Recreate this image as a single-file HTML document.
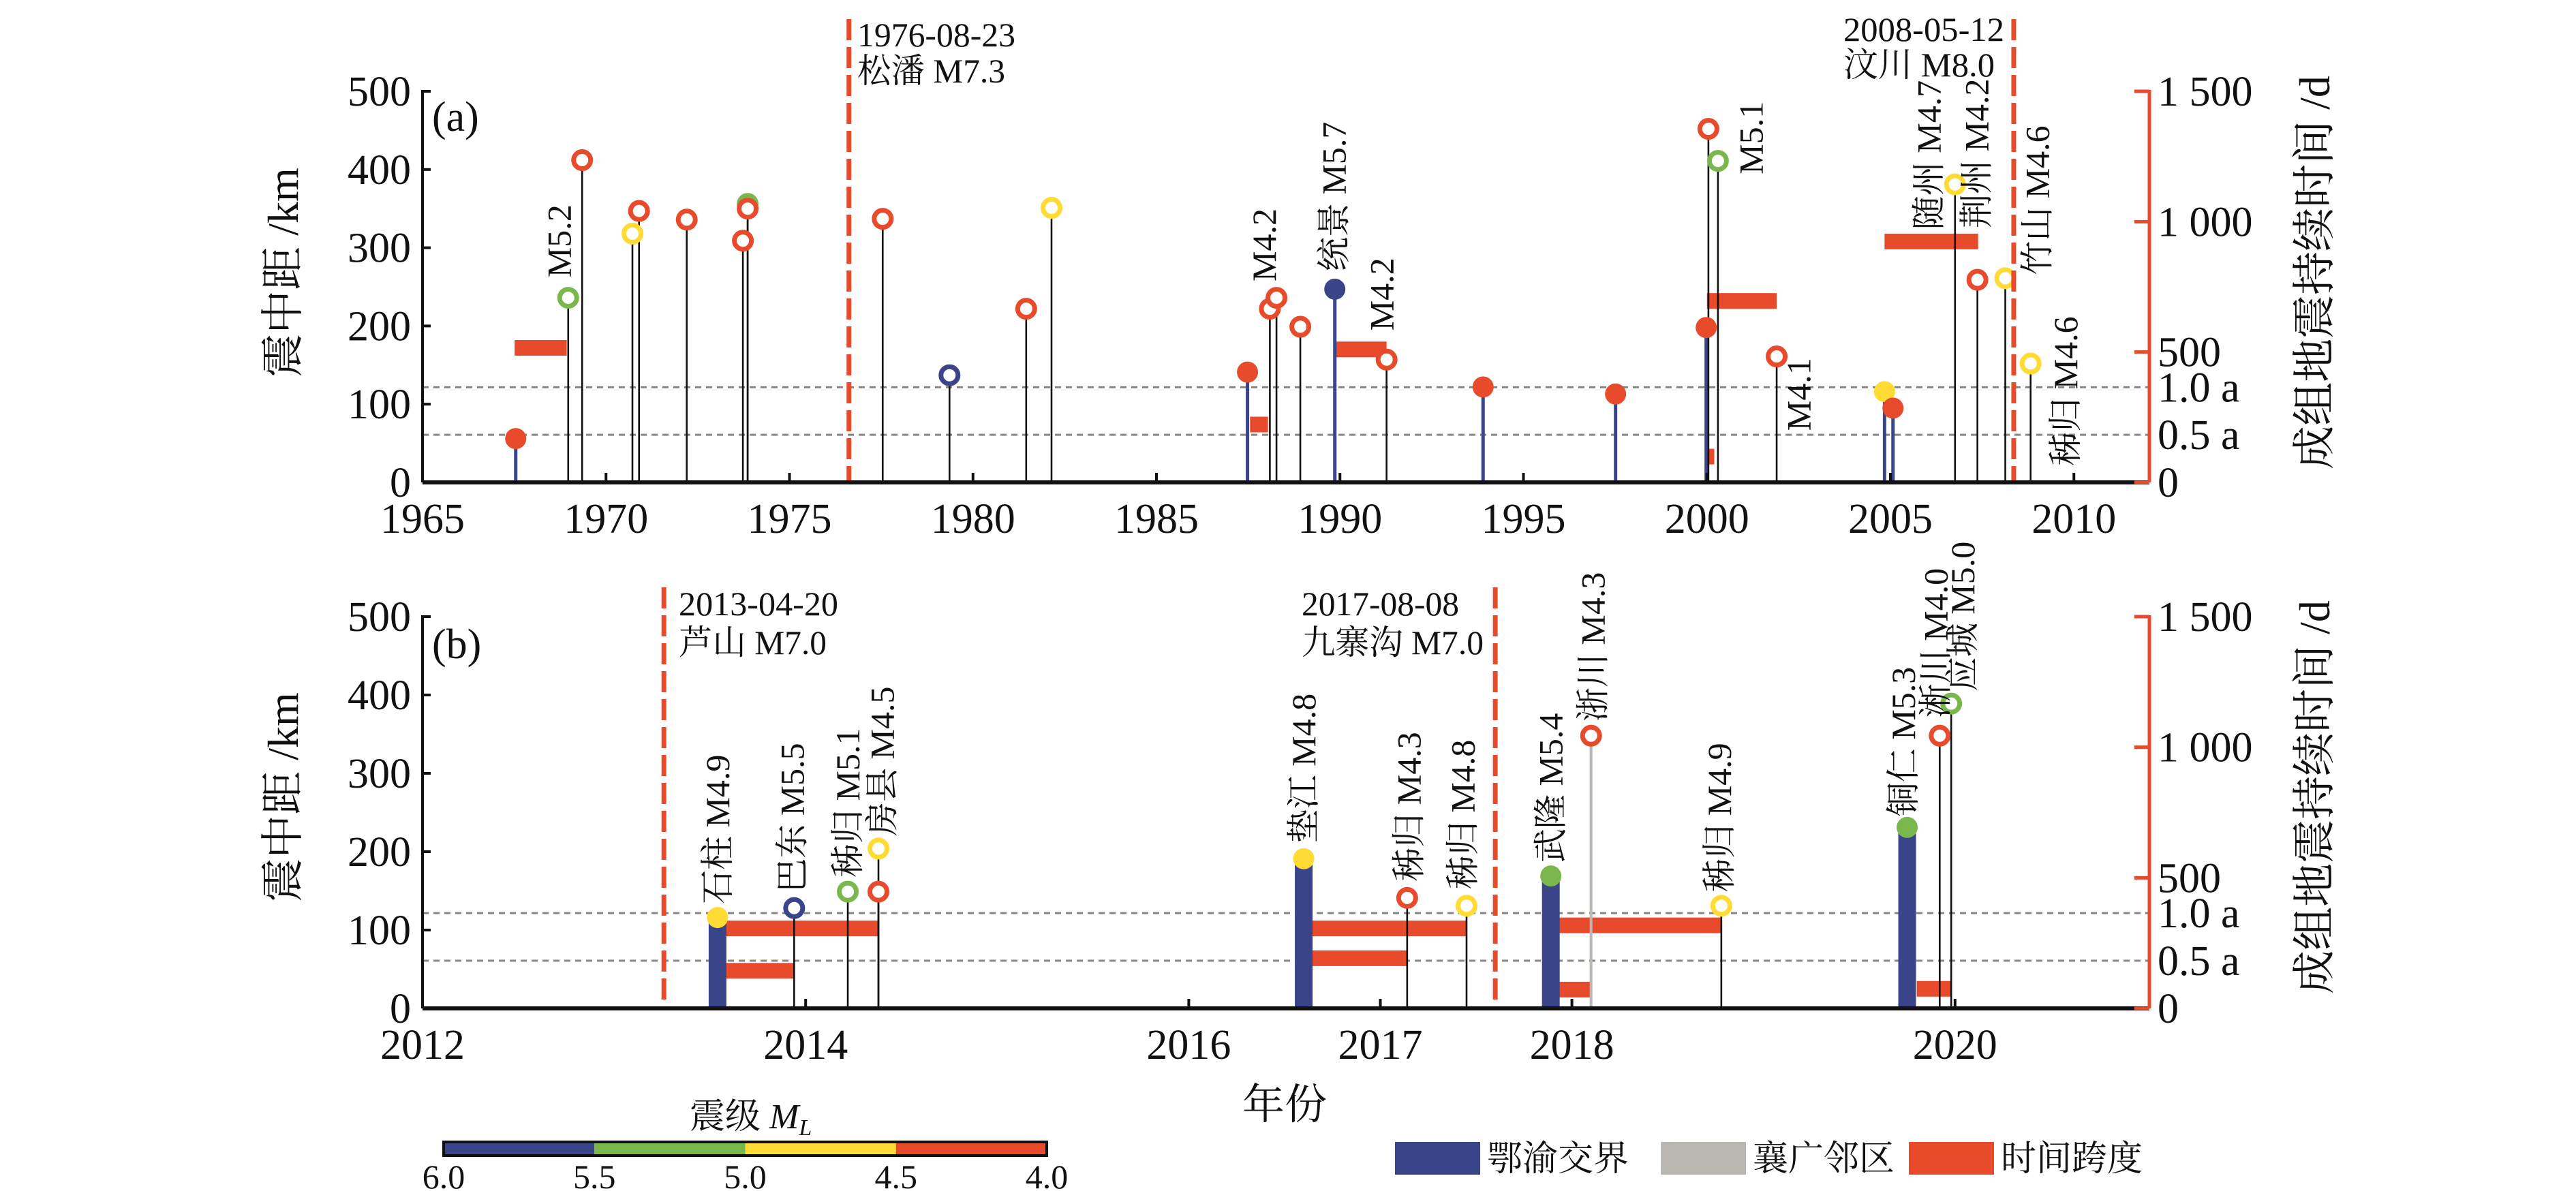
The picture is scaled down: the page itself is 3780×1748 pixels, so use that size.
<!DOCTYPE html>
<html><head><meta charset="utf-8">
<style>
html,body{margin:0;padding:0;background:#fff;}
svg{display:block;font-family:"Liberation Serif","Noto Serif CJK SC","Noto Sans CJK SC",serif;}
</style></head>
<body>
<svg id="chart" xmlns="http://www.w3.org/2000/svg" width="3780" height="1748" viewBox="0 0 3780 1748">
<rect width="3780" height="1748" fill="#fff"/>
<g id="layer"></g>
</svg>
<script>
// ---- Panel (a) data ----
const aYears=[1967.54,1968.97,1969.35,1970.72,1970.90,1972.20,1973.73,1973.86,1973.86,1977.54,1979.36,1981.45,1982.14,1987.48,1988.09,1988.27,1988.92,1989.86,1991.27,1993.90,1997.51,1999.98,2000.04,2000.30,2001.90,2004.84,2005.07,2006.76,2007.37,2008.13,2008.82];
const aKm=[56,236,412,318,347,336,309,356,350,337,137,222,351,141,222,236,199,247,157,122,113,198,452,411,161,116,95,381,259,261,152];
const aMag=[4.2,5.2,4.2,4.7,4.2,4.2,4.2,5.2,4.2,4.2,5.7,4.2,4.7,4.2,4.2,4.2,4.2,5.7,4.2,4.2,4.2,4.2,4.2,5.1,4.1,4.7,4.2,4.7,4.2,4.6,4.6];
const aGroup=['ey','o','o','o','o','o','o','o','o','o','o','o','o','ey','o','o','o','ey','o','ey','ey','ey','o','o','o','ey','ey','o','o','o','o'];
const aBarStart=[1967.51,1987.55,1989.90,2000.00,2000.05,2004.84];
const aBarEnd=[1968.93,1988.04,1991.27,2001.90,2000.20,2007.39];
const aBarDays=[516,222,510,696,99,924];
const aLabelText=['M5.2','M4.2','统景 M5.7','M4.2','M5.1','M4.1','随州 M4.7','荆州 M4.2','竹山 M4.6','秭归 M4.6'];
const aLabelYear=[1968.72,1987.93,1989.84,1991.14,2001.2,2002.5,2006.05,2007.35,2009.0,2009.77];
const aLabelKm=[262,257,270,194,394,66,323,325,265,21];
const aTicks=[1965,1970,1975,1980,1985,1990,1995,2000,2005,2010];
const aEvents=[1976.62,2008.36];

// ---- Panel (b) data ----
const bYears=[2013.54,2013.94,2014.22,2014.38,2014.38,2016.60,2017.14,2017.45,2017.89,2018.10,2018.78,2019.75,2019.92,2019.98];
const bKm=[116,128,149,204,149,191,141,131,169,348,131,231,348,389];
const bMag=[4.9,5.5,5.1,4.5,4.3,4.8,4.3,4.8,5.4,4.3,4.9,5.3,4.0,5.0];
const bGroup=['ey','o','o','o','o','ey','o','o','ey','xg','o','ey','o','o'];
const bBarStart=[2013.57,2013.57,2016.63,2016.63,2017.92,2017.92,2019.80];
const bBarEnd=[2014.38,2013.94,2017.45,2017.14,2018.10,2018.78,2019.98];
const bBarDays=[306,144,306,192,72,318,75];
const bLabelText=['石柱 M4.9','巴东 M5.5','秭归 M5.1','房县 M4.5','垫江 M4.8','秭归 M4.3','秭归 M4.8','武隆 M5.4','浙川 M4.3','秭归 M4.9','铜仁 M5.3','淅川 M4.0','应城 M5.0'];
const bLabelYear=[2013.54,2013.93,2014.22,2014.40,2016.60,2017.15,2017.43,2017.89,2018.11,2018.77,2019.73,2019.90,2020.04];
const bLabelKm=[133,148,167,220,211,162,152,186,366,148,245,371,405];
const bTicks=[2012,2014,2016,2017,2018,2020];
const bEvents=[2013.26,2017.60];

const yTicks=[0,100,200,300,400,500];
const rTicks=[0,500,1000,1500];
const rTickLabels=['0','500','1 000','1 500'];
const cbLabels=['6.0','5.5','5.0','4.5','4.0'];

const NS='http://www.w3.org/2000/svg';
const layer=document.getElementById('layer');
const BLUE='#3a4488',GREEN='#7ab84e',YEL='#ffdb33',RED='#e84a2c',GRAY='#bbb8b4';
function magColor(m){return m>=5.5?BLUE:(m>=5.0?GREEN:(m>=4.5?YEL:RED));}
function mk(tag,attrs,parent){const e=document.createElementNS(NS,tag);for(const k in attrs)e.setAttribute(k,attrs[k]);(parent||layer).appendChild(e);return e;}
function txt(s,attrs,parent){const e=mk('text',attrs,parent);e.textContent=s;return e;}

const X0=620,X1=3154;
function drawPanel(p){
  const g=mk('g',{});
  
  
  const xs=yr=>X0+(yr-p.x0)*p.pxPerYear;
  const ys=km=>p.y0-km*p.kmScale;
  const yd=d=>ys(d/3);
  // reference dashed lines
  [365,182.5].forEach((d,i)=>{
    const l=mk('line',{x1:X0,x2:X1,y1:yd(d),y2:yd(d),stroke:'#8a8580','stroke-width':3,'stroke-dasharray':'9 7'},g);
    
    
  });
  // bars
  for(let i=0;i<p.barStart.length;i++){
    const r=mk('rect',{x:xs(p.barStart[i]),y:yd(p.barDays[i])-11.5,width:xs(p.barEnd[i])-xs(p.barStart[i]),height:23,fill:RED},g);
    
    
  }
  // stems
  for(let i=0;i<p.years.length;i++){
    const grp=p.group[i];
    const w=grp==='ey'?p.eyW:(grp==='xg'?4:2.6);
    const c=grp==='ey'?BLUE:(grp==='xg'?GRAY:'#111');
    const s=mk('line',{x1:xs(p.years[i]),x2:xs(p.years[i]),y1:p.y0,y2:ys(p.km[i]),stroke:c,'stroke-width':w},g);
    
    
  }
  // markers
  for(let i=0;i<p.years.length;i++){
    const c=magColor(p.mag[i]);
    const filled=p.group[i]==='ey';
    const m=filled?mk('circle',{cx:xs(p.years[i]),cy:ys(p.km[i]),r:15.5,fill:c},g)
                  :mk('circle',{cx:xs(p.years[i]),cy:ys(p.km[i]),r:12.5,fill:'#fff',stroke:c,'stroke-width':7},g);
    
    
  }
  // event dashed lines
  p.events.forEach((yr,i)=>{
    const l=mk('line',{x1:xs(yr),x2:xs(yr),y1:p.evTop,y2:p.y0,stroke:RED,'stroke-width':7,'stroke-dasharray':'31 10'},g);
    
    
  });
  // axes
  const ax=mk('line',{x1:X0,x2:X1,y1:p.y0,y2:p.y0,stroke:'#111','stroke-width':6},g);
  
  
  const ay=mk('line',{x1:X0,x2:X0,y1:p.y0,y2:ys(500)-2,stroke:'#111','stroke-width':4},g);
  
  
  const ar=mk('line',{x1:X1,x2:X1,y1:p.y0,y2:ys(500)-2,stroke:RED,'stroke-width':5},g);
  
  
  yTicks.forEach(v=>{
    mk('line',{x1:X0,x2:X0+12,y1:ys(v),y2:ys(v),stroke:'#111','stroke-width':4},g);
    const t=txt(String(v),{x:603,y:ys(v)+21,'text-anchor':'end','font-size':62,fill:'#111'},g);
    
    
  });
  rTicks.forEach((d,i)=>{
    mk('line',{x1:X1-22,x2:X1,y1:yd(d),y2:yd(d),stroke:RED,'stroke-width':5},g);
    const t=txt(rTickLabels[i],{x:3166,y:yd(d)+21,'font-size':62,fill:'#111'},g);
    
    
  });
  [['1.0 a',365],['0.5 a',182.5]].forEach(a=>{
    const t=txt(a[0],{x:3166,y:yd(a[1])+21,'font-size':62,fill:'#111'},g);
    
    
  });
  p.ticks.forEach(v=>{
    mk('line',{x1:xs(v),x2:xs(v),y1:p.y0,y2:p.y0-14,stroke:'#111','stroke-width':4},g);
    const t=txt(String(v),{x:xs(v),y:p.y0+74,'text-anchor':'middle','font-size':62,fill:'#111'},g);
    
    
  });
  // event labels
  for(let i=0;i<p.labelText.length;i++){
    const t=txt(p.labelText[i],{transform:'translate('+xs(p.labelYear[i])+','+ys(p.labelKm[i])+') rotate(-90)','font-size':50,'dominant-baseline':'central',fill:'#111'},g);
    
    
  }
  // panel letter
  const pl=txt('('+p.id+')',{x:634,y:p.letterY,'font-size':62,fill:'#111'},g);
  
  
  // axis titles
  const lt=txt('震中距 /km',{transform:'translate(437,'+p.titleY+') rotate(-90)','text-anchor':'middle','font-size':64,fill:'#111'},g);
  
  
  const rt=txt('成组地震持续时间 /d',{transform:'translate(3418,'+p.titleY+') rotate(-90)','text-anchor':'middle','font-size':64,fill:'#111'},g);
  
  
  return g;
}

drawPanel({id:'a',x0:1965,pxPerYear:53.85,y0:708,kmScale:1.148,years:aYears,km:aKm,mag:aMag,group:aGroup,
  barStart:aBarStart,barEnd:aBarEnd,barDays:aBarDays,labelText:aLabelText,labelYear:aLabelYear,labelKm:aLabelKm,
  ticks:aTicks,events:aEvents,evTop:28,eyW:5,letterY:192,titleY:400});
drawPanel({id:'b',x0:2012,pxPerYear:281.1,y0:1480,kmScale:1.15,years:bYears,km:bKm,mag:bMag,group:bGroup,
  barStart:bBarStart,barEnd:bBarEnd,barDays:bBarDays,labelText:bLabelText,labelYear:bLabelYear,labelKm:bLabelKm,
  ticks:bTicks,events:bEvents,evTop:862,eyW:26,letterY:966,titleY:1170});

// event annotations
const anno=[['1976-08-23',1258,68,232,'start'],['松潘 M7.3',1258,121,217,'start'],
            ['2008-05-12',2705,60,236,'start'],['汶川 M8.0',2705,112,222,'start'],
            ['2013-04-20',996,903,234,'start'],['芦山 M7.0',996,960,217,'start'],
            ['2017-08-08',1910,903,231,'start'],['九寨沟 M7.0',1910,960,267,'start']];
anno.forEach(a=>{
  const t=txt(a[0],{x:a[1],y:a[2],'font-size':50,textLength:a[3],lengthAdjust:'spacingAndGlyphs',fill:'#111'});
  
  
});

// x axis title
const xt=txt('年份',{x:1885,y:1642,'text-anchor':'middle','font-size':62,fill:'#111'});



// colorbar
const cbCols=[BLUE,GREEN,YEL,RED];
cbCols.forEach((c,i)=>{
  const r=mk('rect',{x:651+i*221.25,y:1676,width:221.25,height:20,fill:c});
  
  
});
const cbb=mk('rect',{x:651,y:1676,width:885,height:20,fill:'none',stroke:'#111','stroke-width':4});


cbLabels.forEach((s,i)=>{
  const t=txt(s,{x:651+i*221.25,y:1744,'text-anchor':'middle','font-size':50,fill:'#111'});
  
  
});
const cbt=mk('text',{x:1012,y:1656,'font-size':52,fill:'#111'});


cbt.appendChild(document.createTextNode('震级 '));
const ti=mk('tspan',{'font-style':'italic'},cbt);ti.textContent='M';
const ts=mk('tspan',{'font-style':'italic','font-size':34,dy:10},cbt);ts.textContent='L';

// legend
const leg=[[BLUE,2047,'鄂渝交界','legend-eyu-border'],[GRAY,2437,'襄广邻区','legend-xiangguang'],[RED,2801,'时间跨度','legend-time-span']];
leg.forEach(l=>{
  const r=mk('rect',{x:l[1],y:1676,width:125,height:48,fill:l[0]});
  
  
  const t=txt(l[2],{x:l[1]+135,y:1718,'font-size':52,fill:'#111'});
  
  
});
</script>
</body></html>
